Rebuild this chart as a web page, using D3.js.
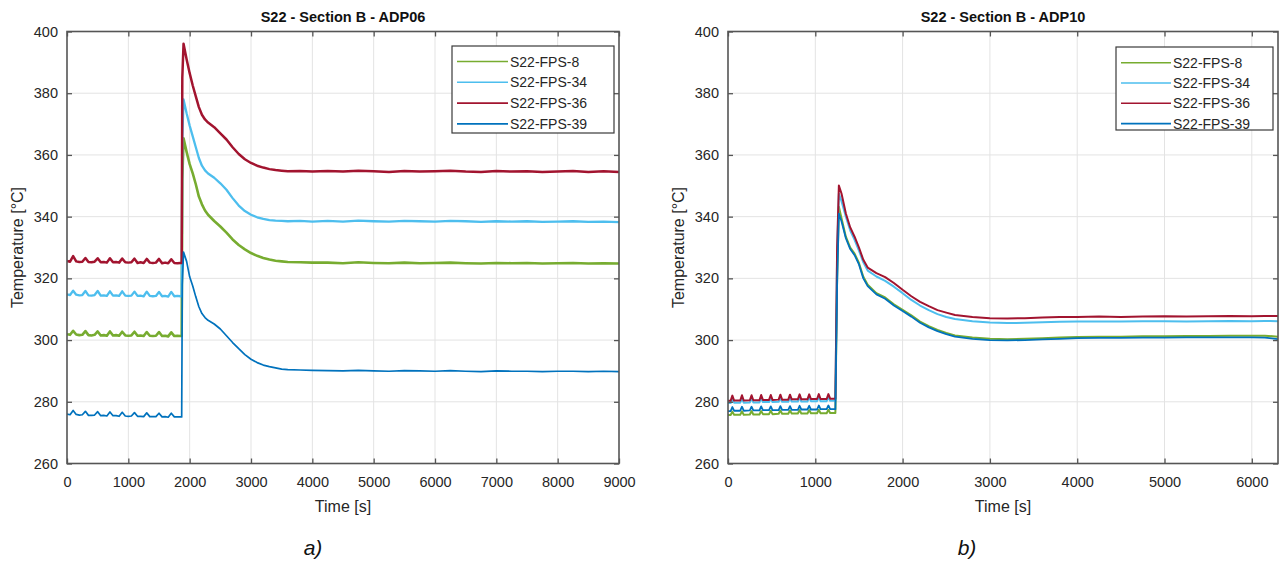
<!DOCTYPE html>
<html><head><meta charset="utf-8">
<script src="https://cdn.jsdelivr.net/npm/d3@7/dist/d3.min.js"></script>
<style>
html,body{margin:0;padding:0;background:#fff;}
svg{display:block;font-family:"Liberation Sans",Arial,sans-serif;}
</style></head>
<body>
<svg id="chart" width="1284" height="565"></svg>
<script>
// ---------- DATA ----------
const seriesNames = ["S22-FPS-8", "S22-FPS-34", "S22-FPS-36", "S22-FPS-39"];
const seriesColors = ["#77AC30", "#4DBEEE", "#A2142F", "#0072BD"];
const panelTitles = ["S22 - Section B - ADP06", "S22 - Section B - ADP10"];
const panelLetters = ["a)", "b)"];
const yTicks = [260, 280, 300, 320, 340, 360, 380, 400];
const xTicksA = [0, 1000, 2000, 3000, 4000, 5000, 6000, 7000, 8000, 9000];
const xTicksB = [0, 1000, 2000, 3000, 4000, 5000, 6000];

// Panel a) ADP06
const timeA = [0,50,100,150,200,250,300,350,400,450,500,550,600,650,700,750,800,850,900,950,
  1000,1050,1100,1150,1200,1250,1300,1350,1400,1450,1500,1550,1600,1650,1700,1750,1800,1850,
  1870,1880,1900,1950,2000,2050,2100,2150,2200,2250,2300,2400,2500,2600,2700,2800,2900,3000,
  3100,3200,3300,3400,3500,3600,3800,4000,
  4250,4500,4750,5000,5250,5500,5750,6000,6250,6500,6750,7000,7250,7500,7750,8000,8250,8500,8750,9000];
const adp06_fps8 = [301.9,301.7,303.0,301.8,301.6,301.7,302.9,301.6,301.5,301.7,302.8,301.5,301.6,301.4,302.8,301.5,301.6,301.4,302.7,301.5,
  301.4,301.5,302.7,301.4,301.5,301.3,302.6,301.4,301.3,301.4,302.6,301.3,301.4,301.2,302.5,301.3,301.4,301.3,
  301.3,352.0,365.4,361.0,357.0,354.0,350.5,346.5,344.0,342.0,340.6,338.6,336.8,334.8,332.6,330.8,329.4,328.2,
  327.3,326.6,326.1,325.7,325.5,325.3,325.2,325.1,
  325.1,324.9,325.2,325.0,324.9,325.1,324.9,325.0,325.1,324.9,324.8,325.0,324.9,325.0,324.8,324.9,325.0,324.8,324.9,324.8];
const adp06_fps34 = [314.8,314.6,316.0,314.7,314.5,314.6,315.9,314.5,314.4,314.6,315.9,314.4,314.5,314.3,315.8,314.4,314.5,314.3,315.8,314.4,
  314.3,314.4,315.7,314.3,314.4,314.2,315.7,314.3,314.2,314.3,315.6,314.2,314.3,314.1,315.6,314.2,314.3,314.2,
  314.2,365.0,378.0,373.5,369.5,366.0,362.5,359.0,356.5,355.0,354.0,352.6,350.8,348.7,346.0,343.6,341.8,340.6,
  339.8,339.3,338.9,338.7,338.6,338.5,338.6,338.4,
  338.6,338.4,338.7,338.5,338.4,338.6,338.5,338.4,338.6,338.5,338.3,338.5,338.4,338.5,338.3,338.4,338.5,338.3,338.4,338.2];
const adp06_fps36 = [325.6,325.4,327.2,325.5,325.3,325.4,326.6,325.3,325.2,325.4,326.5,325.2,325.3,325.1,326.5,325.2,325.3,325.1,326.4,325.2,
  325.1,325.2,326.4,325.0,325.2,325.0,326.3,325.1,325.0,325.1,326.3,324.9,325.1,324.9,326.2,325.0,324.9,325.0,
  325.0,385.0,396.0,391.0,386.5,382.5,379.0,375.5,373.0,371.5,370.5,369.0,367.0,365.0,362.5,360.3,358.6,357.4,
  356.5,355.9,355.4,355.1,354.9,354.7,354.8,354.6,
  354.8,354.6,354.9,354.7,354.5,354.8,354.6,354.7,354.9,354.6,354.5,354.8,354.6,354.7,354.5,354.6,354.8,354.5,354.7,354.5];
const adp06_fps39 = [276.0,275.8,277.2,275.9,275.7,275.8,276.9,275.6,275.6,275.7,276.8,275.5,275.6,275.4,276.7,275.5,275.5,275.3,276.6,275.4,
  275.3,275.4,276.5,275.3,275.3,275.2,276.4,275.2,275.2,275.2,276.3,275.1,275.2,275.0,276.3,275.1,275.1,275.1,
  275.1,318.0,328.5,325.5,320.5,317.5,314.0,310.8,308.6,307.3,306.4,305.2,303.6,301.4,299.2,297.2,295.3,293.8,
  292.7,291.9,291.4,291.0,290.6,290.4,290.3,290.2,
  290.1,290.0,290.2,290.0,289.9,290.1,290.0,289.9,290.1,289.9,289.8,290.0,289.9,289.9,289.8,289.9,289.9,289.8,289.9,289.8];

// Panel b) ADP10
const timeB = [0, 30,50,70, 140,160,180, 250,270,290, 360,380,400, 470,490,510, 580,600,620, 690,710,730,
  800,820,840, 910,930,950, 1020,1040,1060, 1130,1150,1170, 1215,
  1230,1250,1270,1300,1350,1400,1450,1500,1550,1600,1700,1800,1900,2000,2100,2200,2300,2400,2500,2600,
  2800,3000,3200,3400,3600,3800,4000,4250,4500,4750,5000,5250,5500,5750,6000,6150,6300];
const adp10_fps8 = [275.7, 275.7,276.8,275.8, 275.8,276.9,275.8, 275.9,277.0,275.9, 275.9,277.0,276.0, 276.0,277.1,276.0,
  276.1,277.2,276.1, 276.1,277.2,276.2, 276.2,277.3,276.2, 276.2,277.3,276.3, 276.3,277.4,276.3, 276.3,277.4,276.4, 276.4,
  276.4,320.0,343.2,339.5,333.5,330.0,328.0,325.0,320.5,317.9,315.2,313.8,311.6,309.8,308.0,306.0,304.5,303.3,302.3,301.5,
  300.8,300.4,300.3,300.4,300.6,300.8,301.0,301.1,301.1,301.2,301.2,301.3,301.3,301.4,301.4,301.4,301.1];
const adp10_fps34 = [279.6, 279.6,281.0,279.7, 279.7,281.1,279.7, 279.8,281.1,279.8, 279.8,281.2,279.9, 279.9,281.2,279.9,
  280.0,281.3,280.0, 280.0,281.3,280.1, 280.1,281.4,280.1, 280.1,281.4,280.2, 280.2,281.5,280.2, 280.2,281.5,280.3, 280.3,
  280.3,328.0,347.5,345.0,340.0,335.5,332.5,329.0,325.2,322.5,320.6,319.2,317.3,315.2,313.0,311.2,309.7,308.4,307.5,306.8,
  306.1,305.7,305.5,305.6,305.8,305.9,306.0,306.0,306.0,306.1,306.1,306.0,306.1,306.2,306.1,306.2,306.1];
const adp10_fps36 = [280.3, 280.3,282.0,280.4, 280.4,282.1,280.4, 280.5,282.1,280.5, 280.5,282.2,280.6, 280.6,282.2,280.6,
  280.7,282.3,280.7, 280.7,282.3,280.8, 280.8,282.4,280.8, 280.8,282.4,280.9, 280.9,282.5,280.9, 280.9,282.5,281.0, 281.0,
  281.0,330.0,350.1,347.5,341.0,336.5,333.5,330.0,326.0,323.5,321.7,320.4,318.5,316.3,314.2,312.4,311.0,309.7,308.9,308.1,
  307.5,307.1,307.0,307.1,307.3,307.5,307.5,307.6,307.5,307.6,307.7,307.6,307.7,307.8,307.7,307.8,307.8];
const adp10_fps39 = [277.0, 277.0,278.3,277.1, 277.1,278.4,277.1, 277.2,278.4,277.2, 277.2,278.5,277.3, 277.3,278.5,277.3,
  277.3,278.6,277.4, 277.4,278.6,277.4, 277.4,278.7,277.5, 277.5,278.7,277.5, 277.5,278.8,277.6, 277.6,278.8,277.6, 277.6,
  277.6,318.0,341.0,338.5,333.0,329.5,327.5,324.5,320.0,317.5,314.8,313.4,311.2,309.4,307.6,305.6,304.1,302.9,301.9,301.1,
  300.4,300.0,299.9,300.0,300.2,300.4,300.6,300.7,300.7,300.8,300.8,300.9,300.9,300.9,300.9,300.8,300.3];

// ---------- DRAW ----------
const svg = d3.select("#chart");
const panels = [
  {time: timeA, series: [adp06_fps8, adp06_fps34, adp06_fps36, adp06_fps39], xMax: 9000, xTicks: xTicksA,
   left: 67, right: 619, widths: [2.6, 2.3, 2.5, 1.7], legend: {x: 452, y: 46, w: 162, h: 87, lineX0: 457, lineX1: 508, rowY0: 61.5, rowDy: 20.8}},
  {time: timeB, series: [adp10_fps8, adp10_fps34, adp10_fps36, adp10_fps39], xMax: 6300, xTicks: xTicksB,
   left: 728, right: 1278, widths: [2.0, 2.0, 2.0, 1.8], legend: {x: 1116, y: 47, w: 157, h: 83, lineX0: 1121, lineX1: 1171, rowY0: 62.7, rowDy: 20.3}}
];
const plotTop = 31.5, plotBottom = 463.5;
const axisColor = "#555", textColor = "#262626", gridColor = "#e3e3e3";

panels.forEach((p, pi) => {
  const x = d3.scaleLinear().domain([0, p.xMax]).range([p.left, p.right]);
  const y = d3.scaleLinear().domain([260, 400]).range([plotBottom, plotTop]);
  const g = svg.append("g");

  // grid
  g.append("g").selectAll("line").data(p.xTicks.filter(t => t > 0 && t < p.xMax)).join("line")
    .attr("x1", d => x(d)).attr("x2", d => x(d)).attr("y1", plotTop).attr("y2", plotBottom)
    .attr("stroke", gridColor).attr("stroke-width", 1);
  g.append("g").selectAll("line").data(yTicks.filter(t => t > 260 && t < 400)).join("line")
    .attr("x1", p.left).attr("x2", p.right).attr("y1", d => y(d)).attr("y2", d => y(d))
    .attr("stroke", gridColor).attr("stroke-width", 1);

  // series lines
  const clipId = "clip" + pi;
  svg.append("clipPath").attr("id", clipId).append("rect")
    .attr("x", p.left).attr("y", plotTop).attr("width", p.right - p.left).attr("height", plotBottom - plotTop);
  const lineGen = d3.line().x((d, i) => x(p.time[i])).y(d => y(d));
  p.series.forEach((vals, si) => {
    g.append("path").datum(vals).attr("d", lineGen)
      .attr("fill", "none").attr("stroke", seriesColors[si]).attr("stroke-width", p.widths[si])
      .attr("stroke-linejoin", "round").attr("clip-path", `url(#${clipId})`);
  });

  // axes (inward ticks on all sides)
  const tickLen = 5;
  const xb = g.append("g").attr("transform", `translate(0,${plotBottom})`)
    .call(d3.axisBottom(x).tickValues(p.xTicks).tickSizeInner(-tickLen).tickSizeOuter(0).tickPadding(13).tickFormat(d3.format("d")));
  const xt = g.append("g").attr("transform", `translate(0,${plotTop})`)
    .call(d3.axisTop(x).tickValues(p.xTicks).tickSizeInner(-tickLen).tickSizeOuter(0).tickFormat(""));
  const yl = g.append("g").attr("transform", `translate(${p.left},0)`)
    .call(d3.axisLeft(y).tickValues(yTicks).tickSizeInner(-tickLen).tickSizeOuter(0).tickPadding(9).tickFormat(d3.format("d")));
  const yr = g.append("g").attr("transform", `translate(${p.right},0)`)
    .call(d3.axisRight(y).tickValues(yTicks).tickSizeInner(-tickLen).tickSizeOuter(0).tickFormat(""));
  [xb, xt, yl, yr].forEach(a => {
    a.select(".domain").remove();
    a.selectAll(".tick line").attr("stroke", axisColor).attr("stroke-width", 1.3);
    a.selectAll(".tick text").attr("fill", textColor).attr("font-size", 14.5)
      .attr("font-family", "'Liberation Sans', Arial, sans-serif");
  });
  g.append("rect").attr("x", p.left).attr("y", plotTop).attr("width", p.right - p.left).attr("height", plotBottom - plotTop)
    .attr("fill", "none").attr("stroke", axisColor).attr("stroke-width", 1.6);

  const cx = (p.left + p.right) / 2;
  // title
  g.append("text").attr("x", cx).attr("y", 22).attr("text-anchor", "middle")
    .attr("font-size", 14.5).attr("font-weight", "bold").attr("fill", "#111").text(panelTitles[pi]);
  // axis labels
  g.append("text").attr("x", cx).attr("y", 512).attr("text-anchor", "middle")
    .attr("font-size", 16).attr("fill", textColor).text("Time [s]");
  g.append("text").attr("transform", `translate(${p.left - 44},${(plotTop + plotBottom) / 2}) rotate(-90)`)
    .attr("text-anchor", "middle").attr("font-size", 16).attr("fill", textColor).text("Temperature [°C]");
  // panel letter
  g.append("text").attr("x", pi === 0 ? 313 : 967).attr("y", 555).attr("text-anchor", "middle")
    .attr("font-size", 21).attr("font-style", "italic").attr("fill", "#111")
    .attr("font-family", "Arial, 'Liberation Sans', sans-serif").text(panelLetters[pi]);

  // legend
  const L = p.legend;
  const lg = g.append("g");
  lg.append("rect").attr("x", L.x).attr("y", L.y).attr("width", L.w).attr("height", L.h)
    .attr("fill", "#fff").attr("stroke", "#3a3a3a").attr("stroke-width", 1.2);
  seriesNames.forEach((name, si) => {
    const ry = L.rowY0 + si * L.rowDy;
    lg.append("line").attr("x1", L.lineX0).attr("x2", L.lineX1).attr("y1", ry).attr("y2", ry)
      .attr("stroke", seriesColors[si]).attr("stroke-width", 1.6);
    lg.append("text").attr("x", L.lineX1 + 2).attr("y", ry + 5).attr("font-size", 14)
      .attr("fill", textColor).text(name);
  });
});
</script>
</body></html>
